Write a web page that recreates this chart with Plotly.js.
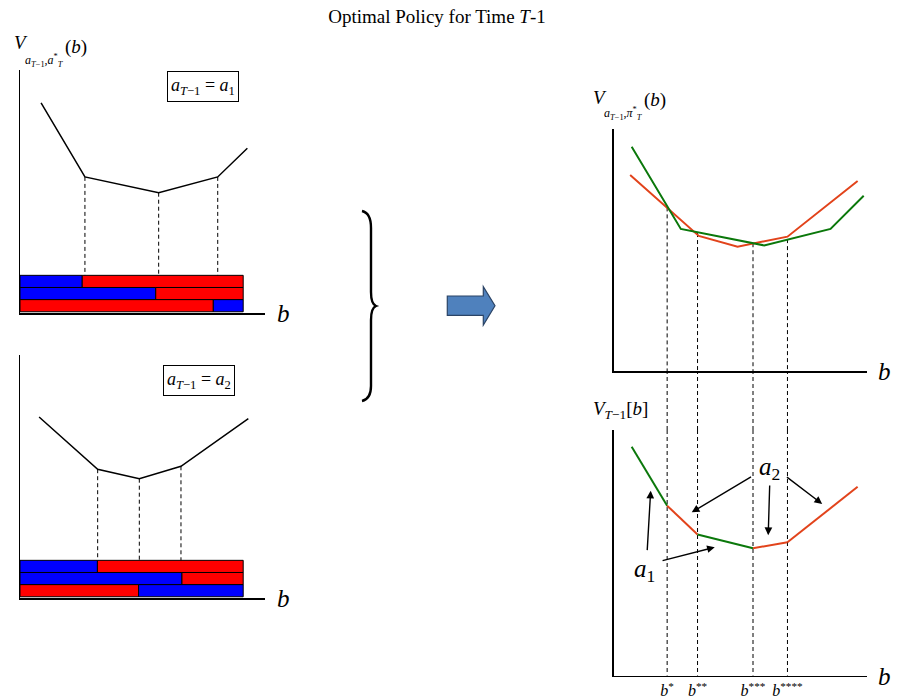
<!DOCTYPE html>
<html><head><meta charset="utf-8">
<script src="https://cdn.plot.ly/plotly-3.0.1.min.js"></script>
<style>html,body{margin:0;padding:0;background:#fff;} #chart{width:899px;height:698px;}</style>
</head><body><div id="chart"></div>
<script>
// ---------------- data ----------------
// Top-left panel: V_{a_{T-1}=a1, a_T*}(b)
const p1_b = [0.86, 2.65, 5.66, 8.07, 9.28];
const p1_V = [8.65, 5.60, 4.95, 5.60, 6.78];
const p1_rowBreaks = [[0, 2.54, 9.11], [0, 5.54, 9.11], [0, 7.89, 9.11]];
const p1_rowActions = [['A', 'B'], ['A', 'B'], ['B', 'A']];

// Bottom-left panel: V_{a_{T-1}=a2, a_T*}(b)
const p2_b = [0.78, 3.17, 4.87, 6.57, 9.32];
const p2_V = [7.45, 5.30, 4.91, 5.42, 7.38];
const p2_rowBreaks = [[0, 3.16, 9.11], [0, 6.61, 9.11], [0, 4.84, 9.11]];
const p2_rowActions = [['A', 'B'], ['A', 'B'], ['B', 'A']];

// Top-right panel: V_{a_{T-1}, pi_T*}(b) for a1 (green) and a2 (red)
const p3_b_a1 = [0.71, 2.65, 5.94, 8.56, 9.87];
const p3_V_a1 = [9.27, 5.87, 5.19, 5.87, 7.24];
const p3_b_a2 = [0.65, 3.36, 4.89, 6.86, 9.63];
const p3_V_a2 = [8.10, 5.58, 5.14, 5.55, 7.85];

// Switching points b*, b**, b***, b****
const switchB = [2.11, 3.31, 5.50, 6.86];
const switchV3 = [6.76, 5.70, 5.28, 5.45];
const switchLabels = ['<i>b</i><sup>*</sup>', '<i>b</i><sup>**</sup>', '<i>b</i><sup>***</sup>', '<i>b</i><sup>****</sup>'];

// Bottom-right panel: V_{T-1}[b] (upper envelope pieces)
const p4_b = [0.71, 2.11, 3.31, 5.50, 6.86, 9.63];
const p4_V = [9.32, 6.92, 5.75, 5.19, 5.43, 7.69];
const p4_segAction = ['a1', 'a2', 'a1', 'a2', 'a2'];

// ---------------- styles ----------------
const SERIF = '"Liberation Serif", "Times New Roman", serif';
const barColor = {A: '#0000ff', B: '#ff0000'};
const actColor = {a1: '#0b780b', a2: '#e2431b'};
const W = 899, H = 698;
const px = x => x / W, py = y => 1 - y / H;

const dom = {
  xL: [px(20), px(265)], y1: [py(313), py(70)], y2: [py(598), py(355)],
  xR: [px(613.7), px(867)], y3: [py(371), py(129)], y4: [py(675.7), py(430)]
};

const rowCenter = r => 1.3 - 0.5 * r;
const barTop = rowCenter(0) + 0.25;

function barsTrace(breaks, actions, xa, ya) {
  const y = [], x = [], base = [], color = [];
  breaks.forEach((br, r) => {
    for (let s = 0; s < br.length - 1; s++) {
      y.push(rowCenter(r)); base.push(br[s]); x.push(br[s + 1] - br[s]);
      color.push(barColor[actions[r][s]]);
    }
  });
  return {type: 'bar', orientation: 'h', x, y, base, width: 0.5, xaxis: xa, yaxis: ya,
    marker: {color, line: {color: '#000', width: 1}}, showlegend: false, hoverinfo: 'skip'};
}
function dashTrace(bs, vs, yEnd, xa, ya) {
  const x = [], y = [];
  bs.forEach((b, i) => { x.push(b, b, null); y.push(vs[i], yEnd, null); });
  return {type: 'scatter', mode: 'lines', x, y, xaxis: xa, yaxis: ya,
    line: {color: '#000', width: 1, dash: '4px,3px'}, showlegend: false, hoverinfo: 'skip'};
}
function lineTrace(x, y, color, width, xa, ya) {
  return {type: 'scatter', mode: 'lines', x, y, xaxis: xa, yaxis: ya,
    line: {color, width}, showlegend: false, hoverinfo: 'skip'};
}

const traces = [];
// panel 1
traces.push(barsTrace(p1_rowBreaks, p1_rowActions, 'x', 'y'));
traces.push(dashTrace(p1_b.slice(1, 4), p1_V.slice(1, 4), barTop, 'x', 'y'));
traces.push(lineTrace(p1_b, p1_V, '#000', 1.5, 'x', 'y'));
// panel 2
traces.push(barsTrace(p2_rowBreaks, p2_rowActions, 'x2', 'y2'));
traces.push(dashTrace(p2_b.slice(1, 4), p2_V.slice(1, 4), barTop, 'x2', 'y2'));
traces.push(lineTrace(p2_b, p2_V, '#000', 1.5, 'x2', 'y2'));
// panel 3
traces.push(dashTrace(switchB, switchV3, 0, 'x3', 'y3'));
traces.push(lineTrace(p3_b_a2, p3_V_a2, actColor.a2, 2, 'x3', 'y3'));
traces.push(lineTrace(p3_b_a1, p3_V_a1, actColor.a1, 2, 'x3', 'y3'));
// panel 4
traces.push(dashTrace(switchB, switchB.map(() => 10), 0, 'x4', 'y4'));
p4_segAction.forEach((a, i) => {
  traces.push(lineTrace([p4_b[i], p4_b[i + 1]], [p4_V[i], p4_V[i + 1]], actColor[a], 2, 'x4', 'y4'));
});

const axBase = {showline: true, linecolor: '#000', linewidth: 1.5, showgrid: false, zeroline: false,
  showticklabels: false, ticks: '', fixedrange: true, automargin: false};

// gap shapes so the dashed lines run continuously from the top-right into the bottom-right panel
const shapes = switchB.map(b => ({type: 'line', xref: 'x3', yref: 'paper', x0: b, x1: b,
  y0: dom.y4[1], y1: dom.y3[0], line: {color: '#000', width: 1, dash: '4px,3px'}}));

// decorative brace and block arrow (paper coordinates)
const P = (x, y) => px(x).toFixed(5) + ',' + py(y).toFixed(5);
shapes.push({type: 'path', xref: 'paper', yref: 'paper', line: {color: '#000', width: 2.4},
  path: 'M' + P(362, 211) + ' Q' + P(371, 213) + ' ' + P(371, 228) + ' L' + P(371, 292) +
        ' Q' + P(371, 304) + ' ' + P(376, 306) + ' Q' + P(371, 308) + ' ' + P(371, 320) +
        ' L' + P(371, 386) + ' Q' + P(371, 399) + ' ' + P(362, 401)});
shapes.push({type: 'path', xref: 'paper', yref: 'paper', fillcolor: '#4f81bd',
  line: {color: '#2b4466', width: 1.2},
  path: 'M' + P(447.3, 296) + ' L' + P(483.3, 296) + ' L' + P(483.3, 286.7) + ' L' + P(495, 305.8) +
        ' L' + P(483.3, 325) + ' L' + P(483.3, 315.3) + ' L' + P(447.3, 315.3) + ' Z'});

const ann = [];
const T = (text, x, y, size, extra) => Object.assign({text, xref: 'paper', yref: 'paper', x: px(x), y: py(y),
  showarrow: false, font: {family: SERIF, size, color: '#000'}, xanchor: 'center', yanchor: 'middle'}, extra || {});

// axis "b" labels
ann.push(T('<i>b</i>', 283, 313, 25));
ann.push(T('<i>b</i>', 283, 598, 25));
ann.push(T('<i>b</i>', 884, 371, 25));
ann.push(T('<i>b</i>', 884, 676, 25));
// y-axis labels
ann.push(T('<i>V</i>', 12, 43, 19, {xanchor: 'left'}));
ann.push(T('<i>a</i><sub><i>T</i>−1</sub>,<i>a</i><sup>*</sup><sub><i>T</i></sub>', 23, 60, 12, {xanchor: 'left'}));
ann.push(T('(<i>b</i>)', 63, 47, 19, {xanchor: 'left'}));
ann.push(T('<i>V</i>', 591, 98, 19, {xanchor: 'left'}));
ann.push(T('<i>a</i><sub><i>T</i>−1</sub>,<i>π</i><sup>*</sup><sub><i>T</i></sub>', 602, 113, 12, {xanchor: 'left'}));
ann.push(T('(<i>b</i>)', 642, 100, 19, {xanchor: 'left'}));
ann.push(T('<i>V</i><sub><i>T</i>−1</sub>[<i>b</i>]', 591, 410, 19, {xanchor: 'left'}));
// boxed labels
ann.push(T('<i>a</i><sub><i>T</i>−1</sub> = <i>a</i><sub>1</sub>', 202.5, 87, 18,
  {bordercolor: '#000', borderwidth: 1, borderpad: 3, bgcolor: '#fff'}));
ann.push(T('<i>a</i><sub><i>T</i>−1</sub> = <i>a</i><sub>2</sub>', 199, 380, 18,
  {bordercolor: '#000', borderwidth: 1, borderpad: 3, bgcolor: '#fff'}));
// action labels in bottom-right panel
ann.push({text: '<i>a</i><sub>2</sub>', xref: 'x4', yref: 'y4', x: 6.16, y: 8.45, showarrow: false,
  font: {family: SERIF, size: 25, color: '#000'}});
ann.push({text: '<i>a</i><sub>1</sub>', xref: 'x4', yref: 'y4', x: 1.23, y: 4.30, showarrow: false,
  font: {family: SERIF, size: 25, color: '#000'}});
const arrow = (ax, ay, x, y) => ({text: '', xref: 'x4', yref: 'y4', axref: 'x4', ayref: 'y4',
  x, y, ax, ay, showarrow: true, arrowhead: 2, arrowsize: 1.1, arrowwidth: 1.4, arrowcolor: '#000',
  standoff: 0, startstandoff: 0});
ann.push(arrow(5.48, 8.13, 3.08, 6.65));
ann.push(arrow(6.16, 7.80, 6.10, 5.72));
ann.push(arrow(6.78, 8.13, 8.23, 6.99));
ann.push(arrow(1.32, 5.05, 1.46, 7.53));
ann.push(arrow(1.87, 4.67, 3.99, 5.23));

const layout = {
  width: W, height: H, margin: {l: 0, r: 0, t: 0, b: 0, pad: 0},
  paper_bgcolor: '#fff', plot_bgcolor: 'rgba(0,0,0,0)', showlegend: false, hovermode: false,
  title: {text: 'Optimal Policy for Time <i>T</i>-1', font: {family: SERIF, size: 19, color: '#000'},
    x: px(437), xanchor: 'center', y: py(16), yanchor: 'middle', xref: 'paper', yref: 'container'},
  xaxis:  Object.assign({}, axBase, {domain: dom.xL, range: [0, 10], anchor: 'y'}),
  yaxis:  Object.assign({}, axBase, {domain: dom.y1, range: [0, 10], anchor: 'x'}),
  xaxis2: Object.assign({}, axBase, {domain: dom.xL, range: [0, 10], anchor: 'y2'}),
  yaxis2: Object.assign({}, axBase, {domain: dom.y2, range: [0, 10], anchor: 'x2'}),
  xaxis3: Object.assign({}, axBase, {domain: dom.xR, range: [0, 10], anchor: 'y3'}),
  yaxis3: Object.assign({}, axBase, {domain: dom.y3, range: [0, 10], anchor: 'x3'}),
  xaxis4: Object.assign({}, axBase, {domain: dom.xR, range: [0, 10], anchor: 'y4',
    showticklabels: true, tickmode: 'array', tickvals: switchB, ticktext: switchLabels,
    tickfont: {family: SERIF, size: 16, color: '#000'}}),
  yaxis4: Object.assign({}, axBase, {domain: dom.y4, range: [0, 10], anchor: 'x4'}),
  shapes, annotations: ann
};

Plotly.newPlot('chart', traces, layout, {staticPlot: true, displayModeBar: false});
</script>
</body></html>
